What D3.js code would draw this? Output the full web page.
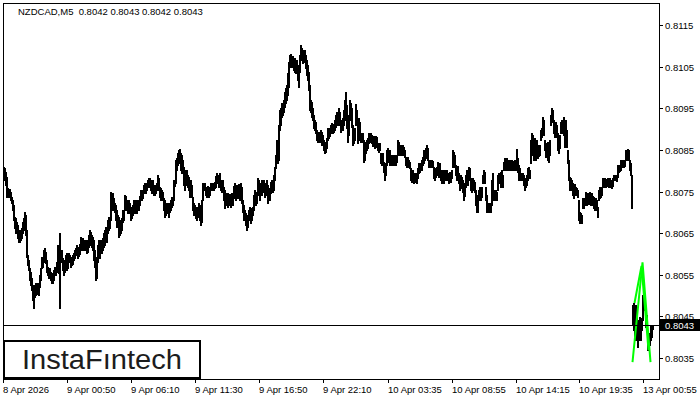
<html>
  <head>
    <meta charset="utf-8">
    <script src="https://d3js.org/d3.v7.min.js"></script>
    <style>
      body { margin: 0; background: #fff; }
      text { font-family: "Liberation Sans", Arial, sans-serif; }
    </style>
  </head>
  <body>
    <script>
      let symbolTitle = "NZDCAD,M5  0.8042 0.8043 0.8042 0.8043";
      let lastPrice = 0.8043;
      let priceTicks = [0.8115, 0.8105, 0.8095, 0.8085, 0.8075, 0.8065, 0.8055, 0.8045, 0.8035];
      let timeTickBars = [0, 64, 128, 192, 256, 320, 385, 449, 513, 576, 640];
      let timeTickLabels = ["8 Apr 2026", "9 Apr 00:50", "9 Apr 06:10", "9 Apr 11:30", "9 Apr 16:50",
                            "9 Apr 22:10", "10 Apr 03:35", "10 Apr 08:55", "10 Apr 14:15", "10 Apr 19:35", "13 Apr 00:55"];

      // M5 bars, one per 5 minutes
      let barHigh = [
        0.80809,0.80806,0.80797,0.80784,0.80758,0.80753,0.80756,0.80748,0.80736,0.80729,
        0.80717,0.80688,0.80686,0.80676,0.80669,0.80657,0.80652,0.80657,0.80662,0.80676,
        0.80686,0.80700,0.80693,0.80657,0.80597,0.80585,0.80566,0.80556,0.80542,0.80525,
        0.80508,0.80525,0.80530,0.80525,0.80530,0.80525,0.80549,0.80566,0.80592,0.80585,
        0.80609,0.80614,0.80604,0.80585,0.80568,0.80561,0.80566,0.80556,0.80554,0.80549,
        0.80561,0.80568,0.80566,0.80580,0.80621,0.80609,0.80650,0.80609,0.80609,0.80590,
        0.80580,0.80585,0.80597,0.80602,0.80590,0.80602,0.80597,0.80592,0.80590,0.80597,
        0.80602,0.80609,0.80614,0.80621,0.80616,0.80614,0.80623,0.80640,0.80633,0.80638,
        0.80633,0.80628,0.80633,0.80633,0.80628,0.80645,0.80657,0.80652,0.80645,0.80640,
        0.80633,0.80609,0.80592,0.80580,0.80621,0.80633,0.80628,0.80633,0.80628,0.80638,
        0.80650,0.80657,0.80664,0.80657,0.80681,0.80688,0.80686,0.80748,0.80741,0.80746,
        0.80734,0.80722,0.80717,0.80705,0.80693,0.80688,0.80681,0.80676,0.80686,0.80705,
        0.80705,0.80741,0.80739,0.80729,0.80724,0.80729,0.80722,0.80712,0.80710,0.80717,
        0.80729,0.80722,0.80729,0.80720,0.80729,0.80722,0.80739,0.80753,0.80748,0.80753,
        0.80765,0.80770,0.80765,0.80770,0.80777,0.80782,0.80782,0.80777,0.80772,0.80777,
        0.80765,0.80760,0.80765,0.80770,0.80789,0.80782,0.80760,0.80758,0.80753,0.80748,
        0.80734,0.80729,0.80722,0.80717,0.80722,0.80712,0.80722,0.80729,0.80736,0.80736,
        0.80777,0.80777,0.80825,0.80830,0.80842,0.80849,0.80852,0.80842,0.80837,0.80825,
        0.80809,0.80801,0.80797,0.80801,0.80789,0.80784,0.80765,0.80777,0.80765,0.80736,
        0.80722,0.80717,0.80712,0.80705,0.80712,0.80722,0.80717,0.80705,0.80729,0.80770,
        0.80765,0.80770,0.80760,0.80758,0.80763,0.80753,0.80760,0.80770,0.80768,0.80770,
        0.80765,0.80772,0.80787,0.80794,0.80789,0.80784,0.80794,0.80777,0.80772,0.80777,
        0.80760,0.80753,0.80741,0.80746,0.80746,0.80739,0.80744,0.80741,0.80746,0.80739,
        0.80763,0.80770,0.80760,0.80765,0.80758,0.80768,0.80760,0.80770,0.80760,0.80729,
        0.80717,0.80705,0.80698,0.80686,0.80693,0.80705,0.80712,0.80705,0.80710,0.80712,
        0.80741,0.80753,0.80746,0.80748,0.80782,0.80777,0.80765,0.80770,0.80777,0.80772,
        0.80777,0.80765,0.80770,0.80777,0.80765,0.80758,0.80753,0.80772,0.80777,0.80770,
        0.80789,0.80809,0.80837,0.80873,0.80869,0.80910,0.80946,0.80950,0.80962,0.80958,
        0.80970,0.80989,0.80998,0.81006,0.81035,0.81061,0.81078,0.81080,0.81071,0.81075,
        0.81066,0.81071,0.81061,0.81066,0.81054,0.81042,0.81078,0.81102,0.81095,0.81090,
        0.81085,0.81090,0.81078,0.81066,0.81054,0.81037,0.81006,0.80970,0.80965,0.80950,
        0.80934,0.80922,0.80917,0.80897,0.80890,0.80893,0.80890,0.80897,0.80893,0.80885,
        0.80873,0.80866,0.80869,0.80878,0.80902,0.80897,0.80902,0.80910,0.80914,0.80910,
        0.80912,0.80922,0.80934,0.80941,0.80938,0.80950,0.80941,0.80922,0.80917,0.80926,
        0.80946,0.80970,0.80989,0.80958,0.80934,0.80926,0.80970,0.80962,0.80950,0.80910,
        0.80897,0.80902,0.80960,0.80946,0.80922,0.80926,0.80917,0.80890,0.80888,0.80890,
        0.80873,0.80861,0.80869,0.80873,0.80878,0.80890,0.80885,0.80890,0.80885,0.80881,
        0.80883,0.80878,0.80883,0.80881,0.80866,0.80861,0.80866,0.80842,0.80837,0.80842,
        0.80821,0.80813,0.80818,0.80849,0.80854,0.80845,0.80849,0.80837,0.80833,0.80837,
        0.80835,0.80837,0.80833,0.80837,0.80873,0.80869,0.80861,0.80861,0.80857,0.80861,
        0.80857,0.80849,0.80833,0.80830,0.80833,0.80825,0.80821,0.80806,0.80801,0.80801,
        0.80794,0.80789,0.80794,0.80792,0.80806,0.80818,0.80813,0.80818,0.80825,0.80833,
        0.80849,0.80845,0.80854,0.80861,0.80854,0.80825,0.80825,0.80821,0.80825,0.80823,
        0.80809,0.80801,0.80806,0.80809,0.80821,0.80813,0.80818,0.80801,0.80797,0.80801,
        0.80794,0.80801,0.80797,0.80801,0.80794,0.80789,0.80797,0.80794,0.80801,0.80849,
        0.80845,0.80837,0.80813,0.80806,0.80811,0.80794,0.80782,0.80789,0.80784,0.80777,
        0.80765,0.80770,0.80789,0.80801,0.80794,0.80809,0.80806,0.80782,0.80777,0.80782,
        0.80777,0.80772,0.80753,0.80741,0.80734,0.80753,0.80760,0.80758,0.80760,0.80789,
        0.80801,0.80797,0.80760,0.80741,0.80722,0.80717,0.80722,0.80720,0.80777,0.80794,
        0.80753,0.80748,0.80753,0.80748,0.80789,0.80794,0.80789,0.80797,0.80801,0.80789,
        0.80821,0.80830,0.80825,0.80830,0.80825,0.80821,0.80825,0.80821,0.80825,0.80823,
        0.80818,0.80825,0.80821,0.80852,0.80830,0.80813,0.80806,0.80794,0.80792,0.80794,
        0.80789,0.80777,0.80782,0.80789,0.80806,0.80809,0.80801,0.80873,0.80890,0.80885,
        0.80873,0.80878,0.80869,0.80873,0.80861,0.80857,0.80861,0.80897,0.80902,0.80929,
        0.80922,0.80873,0.80861,0.80866,0.80869,0.80861,0.80873,0.80934,0.80950,0.80946,
        0.80922,0.80914,0.80917,0.80910,0.80890,0.80878,0.80885,0.80917,0.80922,0.80910,
        0.80929,0.80910,0.80922,0.80897,0.80849,0.80825,0.80784,0.80782,0.80777,0.80770,
        0.80765,0.80768,0.80760,0.80758,0.80753,0.80729,0.80700,0.80698,0.80693,0.80734,
        0.80729,0.80734,0.80748,0.80741,0.80746,0.80744,0.80748,0.80741,0.80746,0.80739,
        0.80736,0.80729,0.80734,0.80729,0.80712,0.80753,0.80760,0.80758,0.80760,0.80782,
        0.80777,0.80782,0.80777,0.80780,0.80782,0.80777,0.80782,0.80777,0.80772,0.80782,
        0.80789,0.80787,0.80789,0.80787,0.80813,0.80811,0.80813,0.80825,0.80823,0.80825,
        0.80821,0.80825,0.80849,0.80845,0.80852,0.80849,0.80825,0.80818,0.80789,0.80477,
        0.80482,0.80465,0.80477,0.80453,0.80424,0.80441,0.80448,0.80441,0.80446,0.80501,
        0.80513,0.80501,0.80465,0.80453,0.80410,0.80405,0.80410,0.80429,0.80424,0.80430
      ];
      let barLow = [
        0.80782,0.80777,0.80765,0.80736,0.80739,0.80736,0.80739,0.80729,0.80722,0.80705,
        0.80681,0.80662,0.80650,0.80652,0.80638,0.80628,0.80628,0.80633,0.80638,0.80650,
        0.80657,0.80672,0.80645,0.80592,0.80573,0.80561,0.80537,0.80525,0.80513,0.80489,
        0.80470,0.80496,0.80501,0.80503,0.80506,0.80501,0.80520,0.80537,0.80566,0.80568,
        0.80580,0.80585,0.80578,0.80556,0.80549,0.80542,0.80546,0.80537,0.80530,0.80530,
        0.80537,0.80549,0.80549,0.80556,0.80573,0.80554,0.80470,0.80585,0.80580,0.80561,
        0.80549,0.80556,0.80566,0.80561,0.80566,0.80585,0.80580,0.80568,0.80573,0.80575,
        0.80585,0.80590,0.80597,0.80604,0.80590,0.80595,0.80599,0.80609,0.80609,0.80614,
        0.80609,0.80609,0.80614,0.80602,0.80604,0.80616,0.80628,0.80621,0.80616,0.80609,
        0.80585,0.80568,0.80537,0.80542,0.80580,0.80597,0.80590,0.80604,0.80602,0.80609,
        0.80616,0.80621,0.80633,0.80628,0.80650,0.80657,0.80662,0.80681,0.80705,0.80710,
        0.80705,0.80700,0.80681,0.80664,0.80669,0.80640,0.80645,0.80650,0.80657,0.80676,
        0.80681,0.80705,0.80712,0.80705,0.80698,0.80700,0.80698,0.80681,0.80686,0.80693,
        0.80705,0.80698,0.80700,0.80698,0.80705,0.80705,0.80717,0.80729,0.80729,0.80734,
        0.80746,0.80748,0.80746,0.80753,0.80760,0.80765,0.80760,0.80753,0.80746,0.80758,
        0.80741,0.80741,0.80746,0.80753,0.80765,0.80753,0.80736,0.80729,0.80734,0.80729,
        0.80705,0.80688,0.80693,0.80698,0.80700,0.80688,0.80700,0.80705,0.80712,0.80717,
        0.80729,0.80763,0.80770,0.80801,0.80813,0.80818,0.80825,0.80801,0.80794,0.80794,
        0.80765,0.80753,0.80765,0.80772,0.80760,0.80753,0.80736,0.80748,0.80736,0.80705,
        0.80693,0.80698,0.80686,0.80681,0.80688,0.80693,0.80681,0.80669,0.80676,0.80729,
        0.80753,0.80753,0.80741,0.80736,0.80741,0.80736,0.80741,0.80753,0.80753,0.80756,
        0.80753,0.80758,0.80760,0.80772,0.80770,0.80760,0.80770,0.80753,0.80748,0.80758,
        0.80729,0.80710,0.80717,0.80722,0.80712,0.80717,0.80722,0.80712,0.80722,0.80717,
        0.80734,0.80741,0.80729,0.80741,0.80734,0.80739,0.80729,0.80741,0.80722,0.80700,
        0.80681,0.80686,0.80669,0.80657,0.80664,0.80681,0.80686,0.80674,0.80681,0.80693,
        0.80705,0.80717,0.80717,0.80722,0.80741,0.80753,0.80729,0.80748,0.80741,0.80748,
        0.80753,0.80736,0.80741,0.80753,0.80722,0.80734,0.80729,0.80746,0.80753,0.80748,
        0.80753,0.80777,0.80806,0.80825,0.80818,0.80825,0.80897,0.80910,0.80929,0.80934,
        0.80941,0.80953,0.80962,0.80970,0.80982,0.81001,0.81049,0.81051,0.81049,0.81054,
        0.81042,0.81037,0.81035,0.81042,0.81018,0.81001,0.81037,0.81066,0.81071,0.81059,
        0.81061,0.81066,0.81047,0.81030,0.81018,0.80994,0.80946,0.80941,0.80929,0.80922,
        0.80902,0.80897,0.80890,0.80873,0.80869,0.80873,0.80869,0.80873,0.80861,0.80861,
        0.80849,0.80842,0.80845,0.80854,0.80873,0.80878,0.80883,0.80890,0.80897,0.80890,
        0.80893,0.80897,0.80905,0.80917,0.80910,0.80926,0.80910,0.80893,0.80897,0.80897,
        0.80910,0.80922,0.80934,0.80902,0.80869,0.80885,0.80922,0.80926,0.80905,0.80861,
        0.80866,0.80873,0.80910,0.80910,0.80866,0.80885,0.80873,0.80869,0.80873,0.80869,
        0.80821,0.80825,0.80842,0.80849,0.80854,0.80866,0.80869,0.80871,0.80866,0.80859,
        0.80861,0.80854,0.80859,0.80857,0.80849,0.80845,0.80849,0.80818,0.80813,0.80821,
        0.80797,0.80777,0.80789,0.80813,0.80825,0.80821,0.80813,0.80813,0.80813,0.80818,
        0.80813,0.80816,0.80813,0.80821,0.80837,0.80842,0.80837,0.80842,0.80837,0.80845,
        0.80837,0.80833,0.80813,0.80809,0.80813,0.80809,0.80806,0.80777,0.80772,0.80782,
        0.80770,0.80772,0.80777,0.80770,0.80782,0.80794,0.80797,0.80801,0.80801,0.80813,
        0.80818,0.80825,0.80830,0.80837,0.80825,0.80809,0.80811,0.80809,0.80811,0.80809,
        0.80782,0.80777,0.80784,0.80789,0.80797,0.80784,0.80797,0.80777,0.80770,0.80777,
        0.80770,0.80782,0.80777,0.80782,0.80777,0.80770,0.80777,0.80772,0.80782,0.80809,
        0.80813,0.80809,0.80789,0.80777,0.80787,0.80770,0.80753,0.80765,0.80758,0.80748,
        0.80729,0.80739,0.80760,0.80772,0.80765,0.80777,0.80782,0.80753,0.80748,0.80758,
        0.80753,0.80748,0.80717,0.80700,0.80700,0.80729,0.80734,0.80729,0.80736,0.80770,
        0.80777,0.80770,0.80729,0.80700,0.80700,0.80700,0.80705,0.80700,0.80717,0.80746,
        0.80729,0.80729,0.80734,0.80729,0.80753,0.80770,0.80770,0.80760,0.80777,0.80760,
        0.80801,0.80806,0.80801,0.80806,0.80801,0.80801,0.80806,0.80801,0.80804,0.80801,
        0.80801,0.80806,0.80801,0.80821,0.80797,0.80777,0.80782,0.80777,0.80777,0.80780,
        0.80765,0.80753,0.80760,0.80765,0.80777,0.80784,0.80782,0.80818,0.80849,0.80837,
        0.80825,0.80837,0.80825,0.80845,0.80830,0.80835,0.80837,0.80873,0.80881,0.80897,
        0.80885,0.80849,0.80833,0.80837,0.80825,0.80821,0.80837,0.80910,0.80922,0.80917,
        0.80890,0.80881,0.80893,0.80881,0.80849,0.80842,0.80854,0.80890,0.80897,0.80890,
        0.80885,0.80857,0.80873,0.80857,0.80818,0.80777,0.80753,0.80753,0.80758,0.80741,
        0.80734,0.80746,0.80741,0.80741,0.80736,0.80681,0.80674,0.80681,0.80674,0.80710,
        0.80710,0.80717,0.80722,0.80717,0.80724,0.80720,0.80729,0.80717,0.80722,0.80717,
        0.80710,0.80705,0.80712,0.80705,0.80688,0.80729,0.80734,0.80736,0.80741,0.80760,
        0.80760,0.80763,0.80760,0.80763,0.80765,0.80760,0.80763,0.80760,0.80758,0.80763,
        0.80777,0.80777,0.80777,0.80775,0.80784,0.80797,0.80799,0.80801,0.80809,0.80811,
        0.80809,0.80811,0.80825,0.80825,0.80833,0.80825,0.80801,0.80789,0.80710,0.80429,
        0.80417,0.80393,0.80405,0.80393,0.80376,0.80393,0.80405,0.80393,0.80417,0.80441,
        0.80489,0.80465,0.80424,0.80429,0.80369,0.80373,0.80381,0.80393,0.80400,0.80420
      ];

      // the green pattern drawn over the last bars (bar index, price)
      let patternOuterBars = [629, 639, 647];
      let patternOuterPrices = [0.80340, 0.80580, 0.80340];
      let patternInnerBars = [631, 638, 645];
      let patternInnerPrices = [0.80482, 0.80571, 0.80369];

      let width = 700;
      let height = 400;
      let plotLeft = 3, plotRight = 659, plotTop = 3, plotBottom = 379;

      let svg = d3.select("body").append("svg")
                  .attr("width", width)
                  .attr("height", height)
                  .style("display", "block");

      let x = d3.scaleLinear().domain([0, plotRight - plotLeft]).range([plotLeft, plotRight]);
      let y = d3.scaleLinear().domain([0.8035, 0.8115]).range([358, 25]);

      // bars: one pixel per 5 min bar, open/close ticks make them look 2px wide
      svg.append("g").selectAll("rect")
         .data(barHigh)
         .join("rect")
         .attr("x", (d, i) => x(i))
         .attr("y", d => Math.round(y(d)))
         .attr("width", 2)
         .attr("height", (d, i) => Math.max(1, Math.round(y(barLow[i])) - Math.round(y(d)) + 1))
         .attr("fill", "#000")
         .attr("shape-rendering", "crispEdges");

      // pattern lines
      let line = d3.line().x(d => x(d[0]) + 0.5).y(d => y(d[1]));
      [[patternOuterBars, patternOuterPrices], [patternInnerBars, patternInnerPrices]].forEach(p => {
        svg.append("path")
           .attr("d", line(p[0].map((b, i) => [b, p[1][i]])))
           .attr("fill", "none")
           .attr("stroke", "#00ff00")
           .attr("stroke-width", 2);
      });

      // last price line
      let yLast = Math.round(y(lastPrice)) + 0.5;
      svg.append("line")
         .attr("x1", plotLeft).attr("x2", plotRight)
         .attr("y1", yLast).attr("y2", yLast)
         .attr("stroke", "#000");

      // frame
      svg.append("rect")
         .attr("x", plotLeft + 0.5).attr("y", plotTop + 0.5)
         .attr("width", plotRight - plotLeft).attr("height", plotBottom - plotTop)
         .attr("fill", "none").attr("stroke", "#000");

      // price axis on the right
      priceTicks.forEach(t => {
        let ty = Math.round(y(t)) + 0.5;
        svg.append("line")
           .attr("x1", plotRight).attr("x2", plotRight + 4)
           .attr("y1", ty).attr("y2", ty)
           .attr("stroke", "#000");
        svg.append("text")
           .attr("x", plotRight + 6)
           .attr("y", ty + 3.5)
           .attr("font-size", "9.5px")
           .attr("fill", "#000")
           .text(t.toFixed(4));
      });

      // last price tag
      svg.append("rect")
         .attr("x", plotRight + 1).attr("y", yLast - 6.5)
         .attr("width", 40).attr("height", 12)
         .attr("fill", "#000");
      svg.append("text")
         .attr("x", plotRight + 6)
         .attr("y", yLast + 3.5)
         .attr("font-size", "9.5px")
         .attr("fill", "#fff")
         .text(lastPrice.toFixed(4));

      // time axis
      timeTickBars.forEach((b, i) => {
        let tx = x(b) + 0.5;
        svg.append("line")
           .attr("x1", tx).attr("x2", tx)
           .attr("y1", plotBottom).attr("y2", plotBottom + 4)
           .attr("stroke", "#000");
        svg.append("text")
           .attr("x", x(b))
           .attr("y", 393)
           .attr("font-size", "9.5px")
           .attr("fill", "#000")
           .text(timeTickLabels[i]);
      });

      // title
      svg.append("text")
         .attr("x", 18)
         .attr("y", 15)
         .attr("font-size", "9.5px")
         .attr("fill", "#000")
         .style("white-space", "pre")
         .text(symbolTitle);

      // logo box
      svg.append("rect")
         .attr("x", 4).attr("y", 341)
         .attr("width", 196).attr("height", 37)
         .attr("fill", "#fff")
         .attr("stroke", "#000")
         .attr("stroke-width", 2);
      svg.append("text")
         .attr("x", 22)
         .attr("y", 369)
         .attr("font-size", "27px")
         .attr("font-family", "Lato, 'Noto Sans', sans-serif")
         .attr("textLength", 160)
         .attr("lengthAdjust", "spacingAndGlyphs")
         .attr("fill", "#1c1c1c")
         .text("InstaF\u0131ntech");
    </script>
  </body>
</html>
